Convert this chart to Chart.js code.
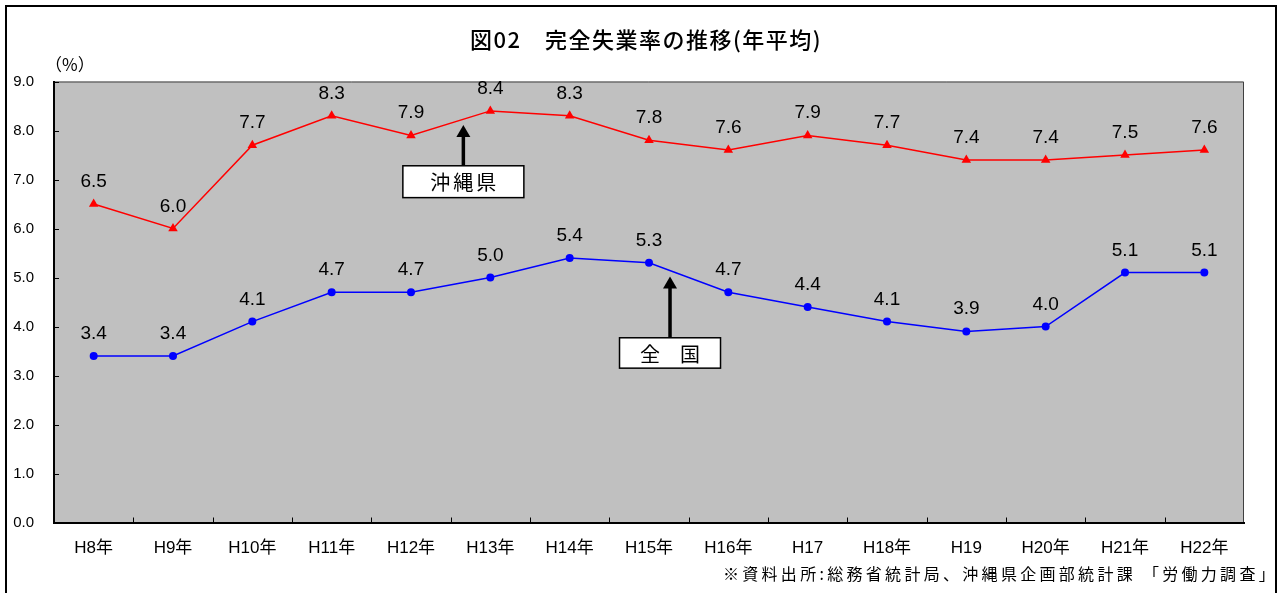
<!DOCTYPE html>
<html lang="ja">
<head>
<meta charset="utf-8">
<title>完全失業率の推移</title>
<script src="https://cdn.jsdelivr.net/npm/chart.js@4.4.1/dist/chart.umd.min.js"></script>
<style>
  html, body { margin: 0; padding: 0; background: #fff; }
  canvas { display: block; }
</style>
</head>
<body>
<canvas id="rateChart" width="1279" height="593"></canvas>
<script>
// 年次ラベルと各系列（%）
const years = ['H8年', 'H9年', 'H10年', 'H11年', 'H12年', 'H13年', 'H14年', 'H15年',
               'H16年', 'H17', 'H18年', 'H19', 'H20年', 'H21年', 'H22年'];
const okinawaRate = [6.5, 6.0, 7.7, 8.3, 7.9, 8.4, 8.3, 7.8, 7.6, 7.9, 7.7, 7.4, 7.4, 7.5, 7.6];
const nationalRate = [3.4, 3.4, 4.1, 4.7, 4.7, 5.0, 5.4, 5.3, 4.7, 4.4, 4.1, 3.9, 4.0, 5.1, 5.1];
const seriesNames = ['沖縄県', '全　国'];

const chartTitle = '図02　完全失業率の推移(年平均)';
const unitLabel = '（%）';
const sourceNote = '※資料出所:総務省統計局、沖縄県企画部統計課 「労働力調査」';

const JP = '"Noto Sans CJK JP", sans-serif';
const LATIN = '"Liberation Sans", "Noto Sans CJK JP", sans-serif';

// 矢印付きの系列名ボックス（x はカテゴリ位置、y は目盛り値）
const callouts = [
    { text: seriesNames[0], at: 4.66, tip: 8.11, top: 7.28, bottom: 6.63, width: 121, spacing: '3px' },
    { text: seriesNames[1], at: 7.265, tip: 5.02, top: 3.77, bottom: 3.15, width: 101, spacing: '0px' }
];

const framePlugin = {
    id: 'frame',
    beforeDraw(chart) {
        const { ctx, chartArea: a } = chart;
        ctx.save();
        ctx.fillStyle = '#c0c0c0';
        ctx.fillRect(a.left, a.top, a.right - a.left, a.bottom - a.top);
        // 上辺・右辺の枠
        ctx.strokeStyle = '#404040';
        ctx.lineWidth = 1;
        ctx.beginPath();
        ctx.moveTo(a.left, a.top + 0.5);
        ctx.lineTo(a.right - 0.5, a.top + 0.5);
        ctx.lineTo(a.right - 0.5, a.bottom);
        ctx.stroke();

        // 外枠
        ctx.strokeStyle = '#000';
        ctx.lineWidth = 2;
        ctx.strokeRect(6, 6, 1270, 620);

        // タイトル
        ctx.fillStyle = '#000';
        ctx.font = '500 22px ' + JP;
        ctx.letterSpacing = '1.5px';
        ctx.textAlign = 'center';
        ctx.textBaseline = 'middle';
        ctx.fillText(chartTitle, 646, 40);

        // 単位
        ctx.font = '17px ' + JP;
        ctx.letterSpacing = '0px';
        ctx.textAlign = 'left';
        ctx.fillText(unitLabel, 45, 65);

        // 出所
        ctx.font = '16px ' + JP;
        ctx.letterSpacing = '3.3px';
        ctx.textAlign = 'right';
        ctx.fillText(sourceNote, 1278, 574);
        ctx.restore();
    },
    afterDraw(chart) {
        const { ctx, chartArea: a, scales: { x, y } } = chart;
        ctx.save();
        // 内向きの目盛り線
        ctx.strokeStyle = '#000';
        ctx.lineWidth = 1;
        ctx.beginPath();
        y.ticks.forEach(t => {
            const py = Math.round(y.getPixelForValue(t.value)) + 0.5;
            ctx.moveTo(a.left, py);
            ctx.lineTo(a.left + 5, py);
        });
        for (let i = 1; i < years.length; i++) {
            const px = Math.round(x.getPixelForValue(i - 0.5)) + 0.5;
            ctx.moveTo(px, a.bottom);
            ctx.lineTo(px, a.bottom - 5);
        }
        ctx.stroke();

        // 系列名ボックスと矢印
        callouts.forEach(c => {
            const cx = x.getPixelForValue(c.at);
            const tipY = y.getPixelForValue(c.tip);
            const topY = y.getPixelForValue(c.top);
            const botY = y.getPixelForValue(c.bottom);
            ctx.fillStyle = '#000';
            ctx.fillRect(cx - 1.75, tipY + 10, 3.5, topY - tipY - 10);
            ctx.beginPath();
            ctx.moveTo(cx, tipY);
            ctx.lineTo(cx - 7, tipY + 12);
            ctx.lineTo(cx + 7, tipY + 12);
            ctx.closePath();
            ctx.fill();

            ctx.fillStyle = '#fff';
            ctx.fillRect(cx - c.width / 2, topY, c.width, botY - topY);
            ctx.strokeStyle = '#000';
            ctx.lineWidth = 1.5;
            ctx.strokeRect(cx - c.width / 2, topY, c.width, botY - topY);

            ctx.fillStyle = '#000';
            ctx.font = '20px ' + JP;
            ctx.letterSpacing = c.spacing;
            ctx.textAlign = 'center';
            ctx.textBaseline = 'middle';
            ctx.fillText(c.text, cx + parseFloat(c.spacing) / 2, (topY + botY) / 2 + 1);
        });
        ctx.restore();
    },
    afterDatasetsDraw(chart) {
        const { ctx } = chart;
        ctx.save();
        ctx.fillStyle = '#000';
        ctx.font = '19px ' + LATIN;
        ctx.textAlign = 'center';
        ctx.textBaseline = 'alphabetic';
        chart.data.datasets.forEach((ds, i) => {
            chart.getDatasetMeta(i).data.forEach((pt, j) => {
                ctx.fillText(ds.data[j].toFixed(1), pt.x, pt.y - 17);
            });
        });
        ctx.restore();
    }
};

const rateCtx = document.getElementById('rateChart').getContext('2d');
new Chart(rateCtx, {
    type: 'line',
    data: {
        labels: years,
        datasets: [{
            label: seriesNames[0],
            data: okinawaRate,
            borderColor: '#ff0000',
            backgroundColor: '#ff0000',
            borderWidth: 1.5,
            pointStyle: 'triangle',
            pointRadius: 5.5,
            pointBorderWidth: 0,
            tension: 0,
            fill: false
        }, {
            label: seriesNames[1],
            data: nationalRate,
            borderColor: '#0000ff',
            backgroundColor: '#0000ff',
            borderWidth: 1.5,
            pointStyle: 'circle',
            pointRadius: 4,
            pointBorderWidth: 0,
            tension: 0,
            fill: false
        }]
    },
    options: {
        responsive: false,
        animation: false,
        layout: {
            padding: { top: 81.5, right: 35, bottom: 34.5, left: 0 }
        },
        plugins: {
            legend: { display: false },
            tooltip: { enabled: false },
            title: { display: false }
        },
        scales: {
            x: {
                offset: true,
                grid: { display: false, drawTicks: false },
                border: { color: '#000', width: 2 },
                ticks: {
                    color: '#000',
                    font: { family: LATIN, size: 17 },
                    padding: 16,
                    maxRotation: 0,
                    autoSkip: false
                },
                afterFit(s) { s.height = 36; }
            },
            y: {
                min: 0,
                max: 9,
                grid: { display: false, drawTicks: false },
                border: { color: '#000', width: 2 },
                ticks: {
                    stepSize: 1,
                    color: '#000',
                    font: { family: LATIN, size: 15 },
                    padding: 20,
                    callback: v => v.toFixed(1)
                },
                afterFit(s) { s.width = 54; }
            }
        }
    },
    plugins: [framePlugin]
});
</script>
</body>
</html>
